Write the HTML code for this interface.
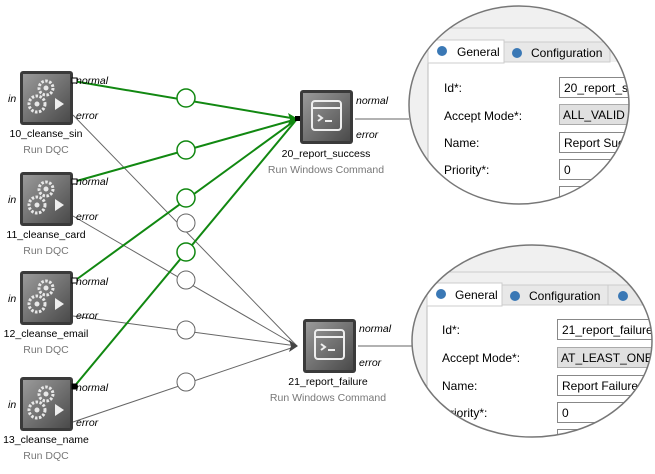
<!DOCTYPE html>
<html><head><style>
body{margin:0;background:#fff;}
svg text{font-family:"Liberation Sans",sans-serif;}
</style></head><body>
<svg width="655" height="469" viewBox="0 0 655 469" xmlns="http://www.w3.org/2000/svg">
<defs>
<linearGradient id="ng" x1="0" y1="0" x2="1" y2="1"><stop offset="0" stop-color="#9a9a9a"/><stop offset="1" stop-color="#4a4a4a"/></linearGradient>
<clipPath id="c1"><ellipse cx="519" cy="105" rx="110" ry="99"/></clipPath>
<clipPath id="c2"><ellipse cx="532" cy="341" rx="120" ry="96"/></clipPath>
<g id="dqc">
<rect x="0" y="0" width="53" height="54" rx="3" fill="#3a3a3a"/>
<rect x="3" y="3" width="47" height="48" fill="url(#ng)"/>
<circle cx="26" cy="17" r="7" fill="none" stroke="#e8e8e8" stroke-width="3" stroke-dasharray="2.5 1.5"/>
<circle cx="26" cy="17" r="2.5" fill="#e8e8e8"/>
<circle cx="17" cy="33" r="8" fill="none" stroke="#e8e8e8" stroke-width="3" stroke-dasharray="2.5 1.5"/>
<circle cx="17" cy="33" r="2.5" fill="#e8e8e8"/>
<polygon points="35,27 44,33 35,39" fill="#eee"/>
</g>
<g id="cmd">
<rect x="0" y="0" width="53" height="54" rx="3" fill="#3a3a3a"/>
<rect x="3" y="3" width="47" height="48" fill="url(#ng)"/>
<rect x="12" y="11" width="29" height="29" rx="3" fill="none" stroke="#eee" stroke-width="2"/>
<line x1="12" y1="18" x2="41" y2="18" stroke="#eee" stroke-width="2"/>
<polyline points="18,25 22,28 18,31" fill="none" stroke="#eee" stroke-width="2"/>
<line x1="25" y1="31" x2="32" y2="31" stroke="#eee" stroke-width="2"/>
</g>
</defs>

<g stroke="#666" stroke-width="1" fill="none">
<line x1="73" y1="115" x2="297" y2="346"/>
<line x1="73" y1="216" x2="297" y2="346"/>
<line x1="73" y1="316" x2="297" y2="346"/>
<line x1="73" y1="422" x2="297" y2="346"/>
<polyline points="355,119 409,119"/>
<polyline points="358,346 413,346"/>
</g>
<polygon points="298,346 289,340 291,346 289,352" fill="#444"/>
<g stroke="#118811" stroke-width="2" fill="none">
<line x1="73" y1="81" x2="297" y2="119"/>
<line x1="73" y1="182" x2="297" y2="119"/>
<line x1="73" y1="282" x2="297" y2="119"/>
<line x1="73" y1="388" x2="297" y2="119"/>
</g>
<polygon points="298,119 288,113 290,119 288,125" fill="#118811"/>
<g fill="#fff" stroke="#666" stroke-width="1">
<circle cx="186" cy="223" r="9"/><circle cx="186" cy="280" r="9"/>
<circle cx="186" cy="330" r="9"/><circle cx="186" cy="382" r="9"/>
</g>
<g fill="#fff" stroke="#118811" stroke-width="1.5">
<circle cx="186" cy="98" r="9"/><circle cx="186" cy="150" r="9"/>
<circle cx="186" cy="198" r="9"/><circle cx="186" cy="252" r="9"/>
</g>

<g font-size="10.5">
<g transform="translate(20,71)"><use href="#dqc"/><rect x="52" y="7" width="5" height="5" fill="#fff" stroke="#000"/></g>
<text x="8" y="102" font-style="italic">in</text><text x="76" y="84" font-style="italic">normal</text><text x="76" y="119" font-style="italic">error</text>
<text x="46" y="137" text-anchor="middle">10_cleanse_sin</text><text x="46" y="153" text-anchor="middle" fill="#777">Run DQC</text>

<g transform="translate(20,172)"><use href="#dqc"/><rect x="52" y="7" width="5" height="5" fill="#fff" stroke="#000"/></g>
<text x="8" y="203" font-style="italic">in</text><text x="76" y="185" font-style="italic">normal</text><text x="76" y="220" font-style="italic">error</text>
<text x="46" y="238" text-anchor="middle">11_cleanse_card</text><text x="46" y="254" text-anchor="middle" fill="#777">Run DQC</text>

<g transform="translate(20,271)"><use href="#dqc"/><rect x="52" y="7" width="5" height="5" fill="#fff" stroke="#000"/></g>
<text x="8" y="302" font-style="italic">in</text><text x="76" y="285" font-style="italic">normal</text><text x="76" y="319" font-style="italic">error</text>
<text x="46" y="337" text-anchor="middle">12_cleanse_email</text><text x="46" y="353" text-anchor="middle" fill="#777">Run DQC</text>

<g transform="translate(20,377)"><use href="#dqc"/><rect x="52" y="7" width="5" height="5" fill="#000" stroke="#000"/></g>
<text x="8" y="408" font-style="italic">in</text><text x="76" y="391" font-style="italic">normal</text><text x="76" y="426" font-style="italic">error</text>
<text x="46" y="443" text-anchor="middle">13_cleanse_name</text><text x="46" y="459" text-anchor="middle" fill="#777">Run DQC</text>

<g transform="translate(300,90)"><use href="#cmd"/></g>
<rect x="295" y="116" width="5" height="5" fill="#000"/>
<text x="356" y="104" font-style="italic">normal</text><text x="356" y="138" font-style="italic">error</text>
<text x="326" y="157" text-anchor="middle">20_report_success</text><text x="326" y="173" text-anchor="middle" fill="#777">Run Windows Command</text>

<g transform="translate(303,319)"><use href="#cmd"/></g>
<text x="359" y="332" font-style="italic">normal</text><text x="359" y="366" font-style="italic">error</text>
<text x="328" y="385" text-anchor="middle">21_report_failure</text><text x="328" y="401" text-anchor="middle" fill="#777">Run Windows Command</text>
</g>

<g clip-path="url(#c1)" font-size="12">
<rect x="400" y="0" width="255" height="230" fill="#f0f0f0"/>
<rect x="428" y="28" width="230" height="210" fill="#fff" stroke="#bbb"/>
<rect x="428" y="28" width="230" height="34" fill="#f0f0f0"/>
<line x1="428" y1="28" x2="658" y2="28" stroke="#ccc"/>
<rect x="504" y="42" width="106" height="20" fill="#e8e8e8" stroke="#ccc"/>
<rect x="428" y="40" width="76" height="23" fill="#fff" stroke="#ccc"/>
<circle cx="442" cy="51" r="5" fill="#3a78b5"/><text x="457" y="56">General</text>
<circle cx="517" cy="53" r="5" fill="#3a78b5"/><text x="531" y="57">Configuration</text>
<text x="444" y="92">Id*:</text><text x="444" y="120">Accept Mode*:</text><text x="444" y="147">Name:</text><text x="444" y="174">Priority*:</text>
<rect x="559.5" y="77.5" width="100" height="20" fill="#fff" stroke="#888"/><text x="564" y="92">20_report_success</text>
<rect x="559.5" y="104.5" width="100" height="20" fill="#e0e0e0" stroke="#aaa"/><text x="563" y="119">ALL_VALID</text>
<rect x="559.5" y="132.5" width="100" height="20" fill="#fff" stroke="#888"/><text x="564" y="147">Report Success</text>
<rect x="559.5" y="159.5" width="100" height="20" fill="#fff" stroke="#888"/><text x="564" y="174">0</text>
<rect x="559.5" y="186.5" width="100" height="20" fill="#fff" stroke="#888"/>
</g>
<ellipse cx="519" cy="105" rx="110" ry="99" fill="none" stroke="#777" stroke-width="1.5"/>

<g clip-path="url(#c2)" font-size="12">
<rect x="400" y="245" width="255" height="224" fill="#f0f0f0"/>
<rect x="427" y="272" width="240" height="210" fill="#fff" stroke="#bbb"/>
<rect x="427" y="272" width="240" height="33" fill="#f0f0f0"/>
<line x1="427" y1="272" x2="667" y2="272" stroke="#ccc"/>
<rect x="502" y="285" width="106" height="20" fill="#e8e8e8" stroke="#ccc"/>
<rect x="608" y="285" width="60" height="20" fill="#e8e8e8" stroke="#ccc"/>
<rect x="427" y="283" width="75" height="23" fill="#fff" stroke="#ccc"/>
<circle cx="441" cy="294" r="5" fill="#3a78b5"/><text x="455" y="299">General</text>
<circle cx="515" cy="296" r="5" fill="#3a78b5"/><text x="529" y="300">Configuration</text>
<circle cx="623" cy="296" r="5" fill="#3a78b5"/>
<text x="442" y="334">Id*:</text><text x="442" y="362">Accept Mode*:</text><text x="442" y="390">Name:</text><text x="442" y="417">Priority*:</text>
<rect x="557.5" y="319.5" width="110" height="20" fill="#fff" stroke="#888"/><text x="562" y="334">21_report_failure</text>
<rect x="557.5" y="347.5" width="110" height="20" fill="#e0e0e0" stroke="#aaa"/><text x="561" y="362">AT_LEAST_ONE</text>
<rect x="557.5" y="375.5" width="110" height="20" fill="#fff" stroke="#888"/><text x="562" y="390">Report Failure</text>
<rect x="557.5" y="402.5" width="110" height="20" fill="#fff" stroke="#888"/><text x="562" y="417">0</text>
<rect x="557.5" y="429.5" width="110" height="20" fill="#fff" stroke="#888"/>
</g>
<ellipse cx="532" cy="341" rx="120" ry="96" fill="none" stroke="#777" stroke-width="1.5"/>
</svg>
</body></html>
